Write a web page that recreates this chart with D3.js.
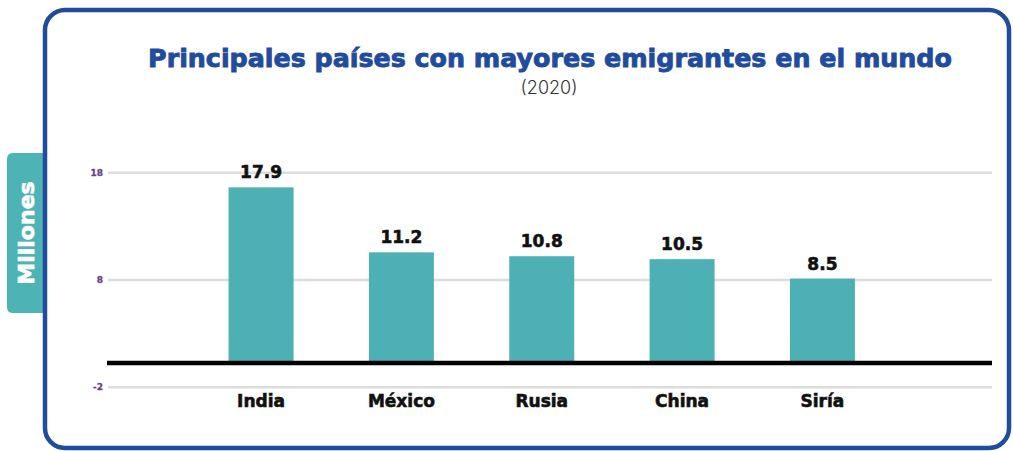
<!DOCTYPE html>
<html><head><meta charset="utf-8">
<script src="https://cdn.jsdelivr.net/npm/d3@7"></script>
<style>html,body{margin:0;padding:0;background:#fff;}svg{display:block;}</style>
</head><body>
<svg id="chart" width="1013" height="451"></svg>
<script>
const categories = ["India", "México", "Rusia", "China", "Siría"];
const values = [17.9, 11.2, 10.8, 10.5, 8.5];
const valueLabels = ["17.9", "11.2", "10.8", "10.5", "8.5"];
const tickValues = [18, 8, -2];
const titleText = "Principales países con mayores emigrantes en el mundo";
const subtitleText = "(2020)";
const axisTitle = "Millones";

const svg = d3.select("#chart");
const teal = "#4cb0b4", blue = "#1f4c9c", purple = "#6e3d8e";
const boldFont = "'DejaVu Sans', Verdana, sans-serif";
const lightFont = "Inter, 'Open Sans', sans-serif";

// axis tab
svg.append("path")
  .attr("d", "M43,153 L13,153 Q7,153 7,159 L7,307 Q7,313 13,313 L43,313 Z")
  .attr("fill", "#4db3b5");
svg.append("text")
  .attr("transform", "translate(34,233) rotate(-90)")
  .attr("text-anchor", "middle")
  .attr("font-family", boldFont).attr("font-weight", 700).attr("font-size", 22)
  .attr("fill", "#fff").attr("stroke", "#fff").attr("stroke-width", 0.7)
  .text(axisTitle);

// frame
svg.append("rect")
  .attr("x", 45).attr("y", 10).attr("width", 964).attr("height", 438)
  .attr("rx", 20).attr("ry", 20)
  .attr("fill", "#fff").attr("stroke", blue).attr("stroke-width", 4.5);

// scales
const y = d3.scaleLinear().domain([-2, 18]).range([386.7, 172.3]);
const yBar = d3.scaleLinear().domain([0, 18]).range([361, 361 - 18 * 9.7]);
const x = d3.scaleBand().domain(categories).range([190.9, 892.6])
  .paddingInner(0.537).paddingOuter(0.2685);

// gridlines + tick labels via axis
const axis = d3.axisLeft(y).tickValues(tickValues).tickSize(-(992 - 108)).tickPadding(5)
  .tickFormat(d => String(d));
const gAxis = svg.append("g").attr("transform", "translate(108,0)").call(axis);
gAxis.select(".domain").remove();
gAxis.selectAll(".tick line").attr("stroke", "#dcdcdc").attr("stroke-width", 2.5);
gAxis.selectAll(".tick text").attr("fill", purple).attr("font-family", boldFont)
  .attr("font-weight", 700).attr("font-size", 9)
  .attr("stroke", purple).attr("stroke-width", 0.3);

// bars
svg.append("g").selectAll("rect").data(values).join("rect")
  .attr("x", (d, i) => x(categories[i]))
  .attr("width", x.bandwidth())
  .attr("y", d => yBar(d))
  .attr("height", d => yBar(0) - yBar(d))
  .attr("fill", teal);

// baseline
svg.append("line").attr("x1", 107).attr("x2", 992)
  .attr("y1", yBar(0) + 2).attr("y2", yBar(0) + 2)
  .attr("stroke", "#000").attr("stroke-width", 4.5);

// value labels
svg.append("g").selectAll("text").data(values).join("text")
  .attr("x", (d, i) => x(categories[i]) + x.bandwidth() / 2)
  .attr("y", d => yBar(d) - 9)
  .attr("text-anchor", "middle")
  .attr("font-family", boldFont).attr("font-weight", 700).attr("font-size", 17)
  .attr("fill", "#111").attr("stroke", "#111").attr("stroke-width", 0.6)
  .text((d, i) => valueLabels[i]);

// category labels
svg.append("g").selectAll("text").data(categories).join("text")
  .attr("x", d => x(d) + x.bandwidth() / 2)
  .attr("y", 407)
  .attr("text-anchor", "middle")
  .attr("font-family", boldFont).attr("font-weight", 700).attr("font-size", 17)
  .attr("fill", "#111").attr("stroke", "#111").attr("stroke-width", 0.6)
  .text(d => d);

// title
const title = svg.append("text")
  .attr("x", 550).attr("y", 67).attr("text-anchor", "middle")
  .attr("font-family", boldFont).attr("font-weight", 700).attr("font-size", 26)
  .attr("fill", blue).attr("stroke", blue).attr("stroke-width", 0.9)
  .text(titleText);
const tw = title.node().getComputedTextLength();
title.attr("font-size", 26 * 804 / tw);

svg.append("text")
  .attr("x", 549).attr("y", 94).attr("text-anchor", "middle")
  .attr("font-family", lightFont).attr("font-weight", 300).attr("font-size", 18)
  .attr("fill", "#333").text(subtitleText);
</script>
</body></html>
